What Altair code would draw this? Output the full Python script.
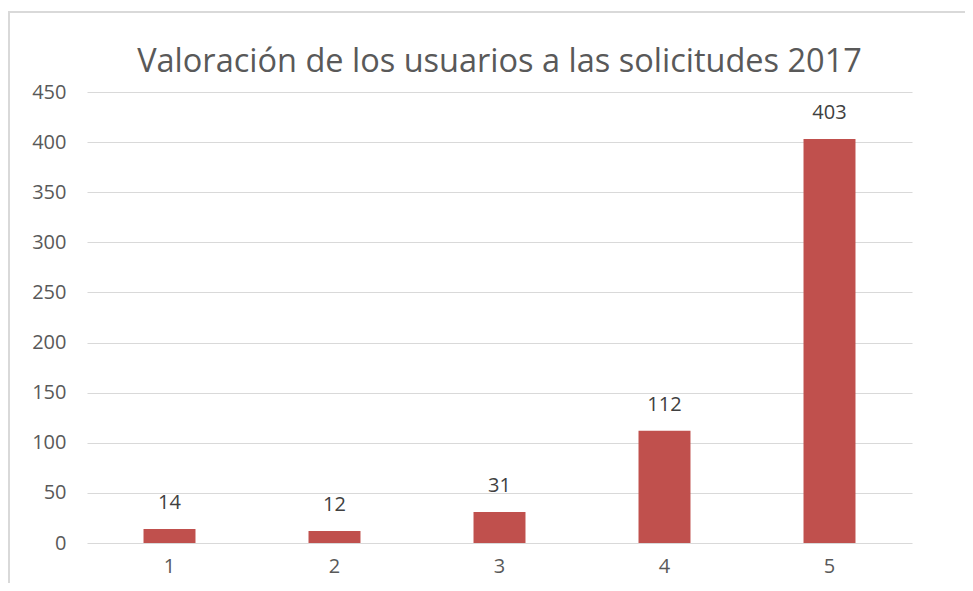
import altair as alt
import pandas as pd

categories = ["1", "2", "3", "4", "5"]
values = [14, 12, 31, 112, 403]
y_ticks = [0, 50, 100, 150, 200, 250, 300, 350, 400, 450]
title_text = "Valoración de los usuarios a las solicitudes 2017"

df = pd.DataFrame({"cat": categories, "val": values})

W, H = 825, 451
FONT = "Open Sans"
GREY = "#595959"

base = alt.Chart(df)

frame = alt.Chart(pd.DataFrame({"k": [0]})).mark_rect(
    fill=None, stroke="#d9d9d9", strokeWidth=2
).encode(
    x=alt.value(-78), x2=alt.value(W + 200), y=alt.value(-80), y2=alt.value(H + 200)
)

bars = base.mark_bar(color="#C0504D").encode(
    x=alt.X("cat:N", sort=categories,
            scale=alt.Scale(paddingInner=0.685, paddingOuter=0.3425),
            axis=alt.Axis(title=None, labelAngle=0, domain=False, ticks=False,
                          labelPadding=13, labelFontSize=20, labelColor=GREY,
                          labelFont=FONT, grid=False)),
    y=alt.Y("val:Q", scale=alt.Scale(domain=[0, 450], nice=False),
            axis=alt.Axis(title=None, values=y_ticks, domain=False, ticks=False,
                          labelPadding=21, labelFontSize=20, labelColor=GREY,
                          labelFont=FONT, gridColor="#d9d9d9", gridWidth=1)),
)

labels = base.mark_text(baseline="bottom", dy=-16, fontSize=20, color="#404040", font=FONT).encode(
    x=alt.X("cat:N", sort=categories),
    y=alt.Y("val:Q"),
    text=alt.Text("val:Q"),
)

chart = alt.layer(frame, bars, labels).properties(
    width=W, height=H,
    title=alt.TitleParams(title_text, fontSize=32.5, font=FONT, fontWeight="normal",
                          color=GREY, anchor="middle", offset=-67),
    autosize=alt.AutoSizeParams(type="none"),
    padding={"left": 79, "top": 84, "right": 53, "bottom": 40},
).configure(background="white").configure_view(stroke=None)

chart.save("out.html", embed_options={"renderer": "svg", "actions": False})
